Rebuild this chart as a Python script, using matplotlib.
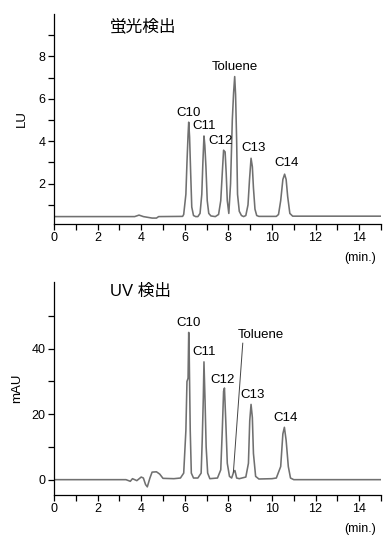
import matplotlib
matplotlib.use("Agg")
import matplotlib.pyplot as plt

plt.rcParams['font.family'] = ['Liberation Sans', 'Noto Sans CJK JP', 'DejaVu Sans']

# fluorescence trace (min, LU)
fl_t = [0, 3.7, 3.9, 4.1, 4.5, 4.7, 4.8, 5.9,
        5.95, 6.05, 6.1, 6.15, 6.18, 6.22, 6.27, 6.32, 6.4, 6.5,
        6.6, 6.7, 6.78, 6.83, 6.88, 6.92, 6.97, 7.03, 7.1, 7.2,
        7.4, 7.55, 7.65, 7.72, 7.78, 7.85, 7.9, 7.95, 8.02,
        8.1, 8.18, 8.24, 8.29, 8.33, 8.38, 8.42, 8.5, 8.6,
        8.7, 8.8, 8.9, 8.97, 9.04, 9.1, 9.15, 9.22, 9.3, 9.4,
        10.2, 10.3, 10.4, 10.5, 10.58, 10.65, 10.72, 10.82, 10.95, 15]
fl_y = [0.45, 0.45, 0.52, 0.45, 0.38, 0.38, 0.45, 0.46,
        0.55, 1.5, 3.0, 4.3, 4.9, 4.2, 2.5, 0.9, 0.5, 0.45,
        0.45, 0.6, 1.5, 3.0, 4.25, 3.8, 2.8, 1.2, 0.6, 0.48,
        0.45, 0.55, 1.2, 2.5, 3.58, 3.5, 2.5, 1.2, 0.6,
        2.0, 5.0, 6.3, 7.05, 6.2, 4.0, 1.5, 0.7, 0.5,
        0.45, 0.5, 1.0, 2.2, 3.2, 2.8, 1.8, 0.8, 0.5, 0.46,
        0.46, 0.55, 1.2, 2.2, 2.45, 2.2, 1.4, 0.6, 0.47, 0.47]

# UV trace (min, mAU)
uv_t = [0, 3.3, 3.5, 3.6, 3.8, 4.0, 4.1, 4.2, 4.28, 4.4, 4.5, 4.7, 4.85, 5.0,
        5.5, 5.8, 5.95, 6.05, 6.1, 6.15, 6.18, 6.2, 6.25, 6.3, 6.4,
        6.6, 6.75, 6.8, 6.85, 6.88, 6.93, 6.98, 7.05, 7.15,
        7.5, 7.65, 7.72, 7.78, 7.82, 7.88, 7.95, 8.05, 8.15, 8.25, 8.3, 8.38,
        8.5, 8.8, 8.92, 8.98, 9.04, 9.1, 9.15, 9.25, 9.4,
        10.0, 10.2, 10.4, 10.5, 10.57, 10.65, 10.75, 10.85, 11.0, 15]
uv_y = [0, 0, -0.5, 0.3, -0.3, 0.8, 0.5, -1.5, -2.2, 0.5, 2.3, 2.4, 1.7, 0.4,
        0.3, 0.5, 2, 15, 30, 31, 45, 40, 15, 2, 0.5,
        0.5, 2, 12, 25, 36, 24, 10, 2, 0.3,
        0.5, 3, 15, 27, 28, 18, 5, 1, 0.5, 2.5, 2.8, 0.5,
        0.3, 0.8, 5, 18, 23, 19, 8, 1, 0.2,
        0.3, 0.5, 4, 14, 16, 12, 4, 0.5, 0, 0]

fl_labels = ['C10', 'C11', 'C12', 'Toluene', 'C13', 'C14']
fl_lab_x = [6.18, 6.88, 7.62, 8.31, 9.15, 10.68]
fl_lab_y = [5.35, 4.72, 4.02, 7.49, 3.69, 2.96]

uv_labels = ['C10', 'C11', 'C12', 'C13', 'C14']
uv_lab_x = [6.16, 6.88, 7.74, 9.12, 10.63]
uv_lab_y = [47.9, 39.0, 30.6, 25.8, 18.9]
tol_lab = (9.48, 44.1)
tol_line_x = [8.66, 8.23]
tol_line_y = [41.7, 2.3]

fig = plt.figure(figsize=(3.92, 5.44), dpi=100)
ax1 = fig.add_axes([0.1378, 0.5882, 0.834, 0.3861])
ax2 = fig.add_axes([0.1378, 0.0906, 0.834, 0.391])

line_c = '#707070'
ax1.plot(fl_t, fl_y, color=line_c, lw=1.15)
ax2.plot(uv_t, uv_y, color=line_c, lw=1.15)

for lab, x, y in zip(fl_labels, fl_lab_x, fl_lab_y):
    ax1.text(x, y, lab, ha='center', va='center', fontsize=9.5)
for lab, x, y in zip(uv_labels, uv_lab_x, uv_lab_y):
    ax2.text(x, y, lab, ha='center', va='center', fontsize=9.5)
ax2.text(tol_lab[0], tol_lab[1], 'Toluene', ha='center', va='center', fontsize=9.5)
ax2.plot(tol_line_x, tol_line_y, color='#444444', lw=0.7)

ax1.set_ylim(0.1, 10)
ax1.set_yticks(range(1, 10))
ax1.set_yticklabels(['' if v % 2 else str(v) for v in range(1, 10)])
ax1.set_ylabel('LU', fontsize=9.5, labelpad=8)
ax1.text(0.171, 0.94, '蛍光検出', transform=ax1.transAxes, fontsize=12,
         ha='left', va='center')

ax2.set_ylim(-4.6, 60.4)
ax2.set_yticks(range(0, 60, 10))
ax2.set_yticklabels(['' if v % 20 else str(v) for v in range(0, 60, 10)])
ax2.set_ylabel('mAU', fontsize=9.5, labelpad=6)
ax2.text(0.171, 0.956, 'UV 検出', transform=ax2.transAxes, fontsize=12,
         ha='left', va='center')

for ax in (ax1, ax2):
    ax.set_xlim(0, 15)
    ax.set_xticks(range(0, 16))
    ax.set_xticklabels(['' if v % 2 else str(v) for v in range(0, 16)])
    ax.spines['top'].set_visible(False)
    ax.spines['right'].set_visible(False)
    ax.spines['left'].set_linewidth(0.9)
    ax.spines['bottom'].set_linewidth(0.9)
    ax.tick_params(direction='out', length=4, width=0.9, labelsize=9, pad=2)
    ax.text(0.936, -0.16, '(min.)', transform=ax.transAxes, fontsize=9,
            ha='center', va='center')

fig.savefig('out.png', dpi=100)
